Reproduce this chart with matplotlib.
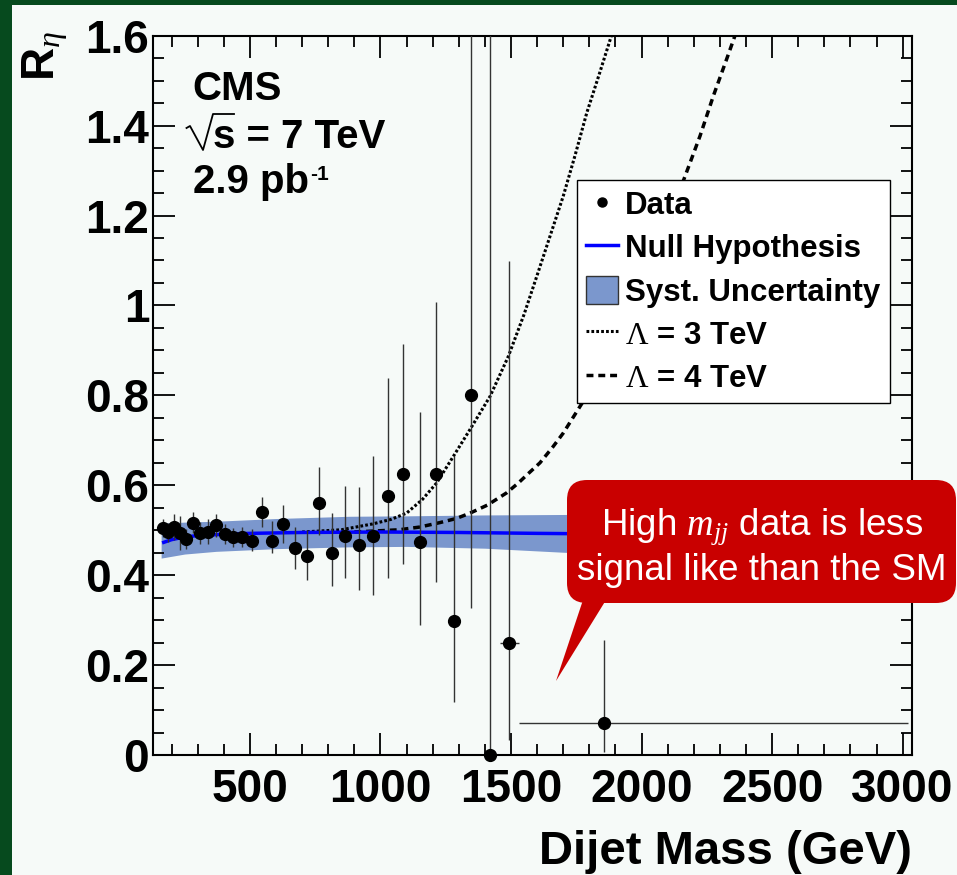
import matplotlib
matplotlib.use('Agg')
import matplotlib.pyplot as plt
from matplotlib.patches import FancyBboxPatch, Polygon, Rectangle, Patch
from matplotlib.lines import Line2D
from matplotlib.ticker import MultipleLocator, FuncFormatter
from matplotlib.transforms import IdentityTransform

plt.rcParams['font.family'] = ['Liberation Sans', 'DejaVu Sans']
plt.rcParams['font.weight'] = 'bold'
plt.rcParams['mathtext.fontset'] = 'custom'
plt.rcParams['mathtext.rm'] = 'Liberation Serif:weight=normal'
plt.rcParams['mathtext.it'] = 'Liberation Serif:style=italic:weight=normal'
plt.rcParams['mathtext.bf'] = 'Liberation Sans:weight=bold'

# measured data points (bin centres, GeV) and ratio R_eta
mass = [166, 187, 209, 232, 257, 283, 310, 340, 370, 403, 436, 471, 508, 546,
        586, 628, 671, 717, 764, 813, 864, 917, 972, 1029, 1088, 1150, 1214,
        1280, 1348, 1419, 1493, 1856]
ratio = [0.506, 0.495, 0.507, 0.494, 0.481, 0.517, 0.494, 0.497, 0.511, 0.492,
         0.484, 0.485, 0.477, 0.540, 0.476, 0.513, 0.460, 0.443, 0.561, 0.449,
         0.488, 0.468, 0.488, 0.577, 0.624, 0.474, 0.624, 0.299, 0.800, 0.0,
         0.249, 0.071]
err_up = [0.020, 0.022, 0.028, 0.037, 0.022, 0.024, 0.024, 0.028, 0.025, 0.022,
          0.022, 0.022, 0.026, 0.034, 0.044, 0.043, 0.048, 0.058, 0.080, 0.089,
          0.111, 0.128, 0.176, 0.262, 0.291, 0.288, 0.383, 0.366, 1.000, 1.800,
          0.850, 0.184]
err_dn = [0.020, 0.022, 0.028, 0.037, 0.022, 0.024, 0.024, 0.028, 0.025, 0.022,
          0.022, 0.022, 0.024, 0.032, 0.026, 0.042, 0.046, 0.053, 0.071, 0.074,
          0.094, 0.101, 0.133, 0.184, 0.199, 0.184, 0.240, 0.180, 0.473, 0.0,
          0.216, 0.064]
xerr_lo = [0] * 30 + [37, 326]
xerr_hi = [0] * 30 + [37, 1163]

# null hypothesis and its systematic band
null_mass = [170, 200, 250, 300, 400, 500, 700, 1000, 1300, 1600, 2000, 2500, 3000]
null_r = [0.473, 0.479, 0.485, 0.488, 0.491, 0.493, 0.495, 0.496, 0.495, 0.493,
          0.491, 0.489, 0.487]
band_mass = [160, 250, 370, 600, 880, 1100, 1400, 1700, 2000, 3000]
band_hi = [0.516, 0.518, 0.520, 0.526, 0.531, 0.532, 0.534, 0.535, 0.536, 0.538]
band_lo = [0.438, 0.447, 0.453, 0.459, 0.463, 0.464, 0.460, 0.451, 0.445, 0.428]

# contact interaction predictions
lam3_mass = [700, 850, 970, 1040, 1100, 1160, 1215, 1280, 1345, 1420, 1490,
             1550, 1600, 1650, 1700, 1745, 1790, 1840, 1890]
lam3_r = [0.496, 0.501, 0.514, 0.524, 0.538, 0.568, 0.605, 0.665, 0.726, 0.798,
          0.887, 0.980, 1.067, 1.155, 1.243, 1.333, 1.428, 1.518, 1.610]
lam4_mass = [900, 1072, 1150, 1228, 1290, 1343, 1410, 1483, 1528, 1570, 1611,
             1660, 1700, 1777, 1850, 1950, 2050, 2120, 2167, 2224, 2275, 2326, 2370]
lam4_r = [0.496, 0.501, 0.507, 0.517, 0.526, 0.538, 0.556, 0.583, 0.605, 0.628,
          0.650, 0.685, 0.716, 0.787, 0.865, 0.985, 1.120, 1.215, 1.288, 1.377,
          1.466, 1.548, 1.620]

W, H = 957, 875
bg = '#f6faf8'
band_col = '#7b97cd'
ident = IdentityTransform()

fig = plt.figure(figsize=(W / 100, H / 100), dpi=100, facecolor='#064a1e')
fig.add_artist(Rectangle((12, 0), W, H - 5, transform=ident,
                         facecolor=bg, edgecolor='none', zorder=-5))

ax = fig.add_axes([153.3 / W, 1 - 755 / H, 759 / W, 719.3 / H])
ax.set_facecolor(bg)

ax.fill_between(band_mass, band_lo, band_hi, color=band_col, lw=0, zorder=1)
ax.plot(lam3_mass, lam3_r, color='black', lw=2.2, ls=(0, (0.9, 0.7)), zorder=2)
ax.plot(lam4_mass, lam4_r, color='black', lw=2.5, ls=(0, (2, 1.4)), zorder=2)
ax.plot(null_mass, null_r, color='#0000ff', lw=2.5, zorder=3)
ax.errorbar(mass, ratio, yerr=[err_dn, err_up], xerr=[xerr_lo, xerr_hi],
            fmt='none', ecolor='#333333', elinewidth=1, capsize=0, zorder=4)
ax.plot(mass, ratio, 'o', color='black', ms=8.5, zorder=5, clip_on=False)

ax.set_xlim(130, 3037)
ax.set_ylim(0, 1.6)
ax.xaxis.set_major_locator(MultipleLocator(500))
ax.xaxis.set_minor_locator(MultipleLocator(100))
ax.yaxis.set_major_locator(MultipleLocator(0.2))
ax.yaxis.set_minor_locator(MultipleLocator(0.05))
ax.yaxis.set_major_formatter(FuncFormatter(lambda v, p: '%g' % round(v, 2)))
ax.tick_params(which='both', direction='in', top=True, right=True, width=1.3)
ax.tick_params(which='major', length=16)
ax.tick_params(which='minor', length=8)
ax.tick_params(axis='both', labelsize=33)
ax.tick_params(axis='x', pad=9)
ax.tick_params(axis='y', pad=3)
for s in ax.spines.values():
    s.set_linewidth(1.5)

# axis titles
fig.text(912 / W, 1 - 864 / H, 'Dijet Mass (GeV)', ha='right', va='baseline',
         fontsize=34)
fig.text(21 / W, 1 - 31 / H, r'R$_{\eta}$', rotation=90, ha='left', va='top',
         fontsize=33)

# CMS labels
ax.text(0.052, 0.911, 'CMS', transform=ax.transAxes, fontsize=29)
ax.text((213 - 153.3) / 759, (755 - 148) / 719.3, 's = 7 TeV',
        transform=ax.transAxes, fontsize=29)
fig.add_artist(Line2D([186.5, 190, 203, 213, 234], [H - 128, H - 126, H - 150, H - 114, H - 114],
                      transform=ident, color='black', lw=1.3, zorder=7))
ax.text(0.052, (755 - 193) / 719.3, '2.9 pb', transform=ax.transAxes, fontsize=29)
ax.text((310 - 153.3) / 759, (755 - 180) / 719.3, '-1', transform=ax.transAxes,
        fontsize=15)

handles = [
    Line2D([], [], marker='o', color='black', ls='none', ms=6.5),
    Line2D([], [], color='#0000ff', lw=2.5),
    Patch(facecolor=band_col, edgecolor='#333333', lw=1),
    Line2D([], [], color='black', lw=2.2, ls=(0, (0.9, 0.7))),
    Line2D([], [], color='black', lw=2.5, ls=(0, (2, 1.4))),
]
labels = ['Data', 'Null Hypothesis', 'Syst. Uncertainty',
          r'$\Lambda$ = 3 TeV', r'$\Lambda$ = 4 TeV']
leg = ax.legend(handles, labels, loc='upper left', bbox_to_anchor=(0.558, 0.7994),
                borderaxespad=0, fontsize=22.5, borderpad=0.3, labelspacing=0.37,
                handlelength=1.02, handletextpad=0.22, handleheight=1.0,
                fancybox=False, framealpha=1, facecolor='white', edgecolor='black')
leg.get_frame().set_linewidth(1)
leg.set_zorder(6)

# red callout
red = '#c90000'
fig.add_artist(FancyBboxPatch((567, H - 603), 389, 123, boxstyle='round,pad=0,rounding_size=20',
                              transform=ident, facecolor=red, edgecolor='none', zorder=10))
fig.add_artist(Polygon([(583, H - 600), (606, H - 600), (556, H - 681)], closed=True,
                       transform=ident, facecolor=red, edgecolor='none', zorder=10))
fig.text(762 / W, 1 - 535 / H, r'High $m_{jj}$ data is less', color='white',
         ha='center', va='baseline', fontsize=26.5, fontweight='normal', zorder=11)
fig.text(762 / W, 1 - 580 / H, 'signal like than the SM', color='white',
         ha='center', va='baseline', fontsize=26.5, fontweight='normal', zorder=11)

fig.savefig('out.png', dpi=100, facecolor=fig.get_facecolor())
